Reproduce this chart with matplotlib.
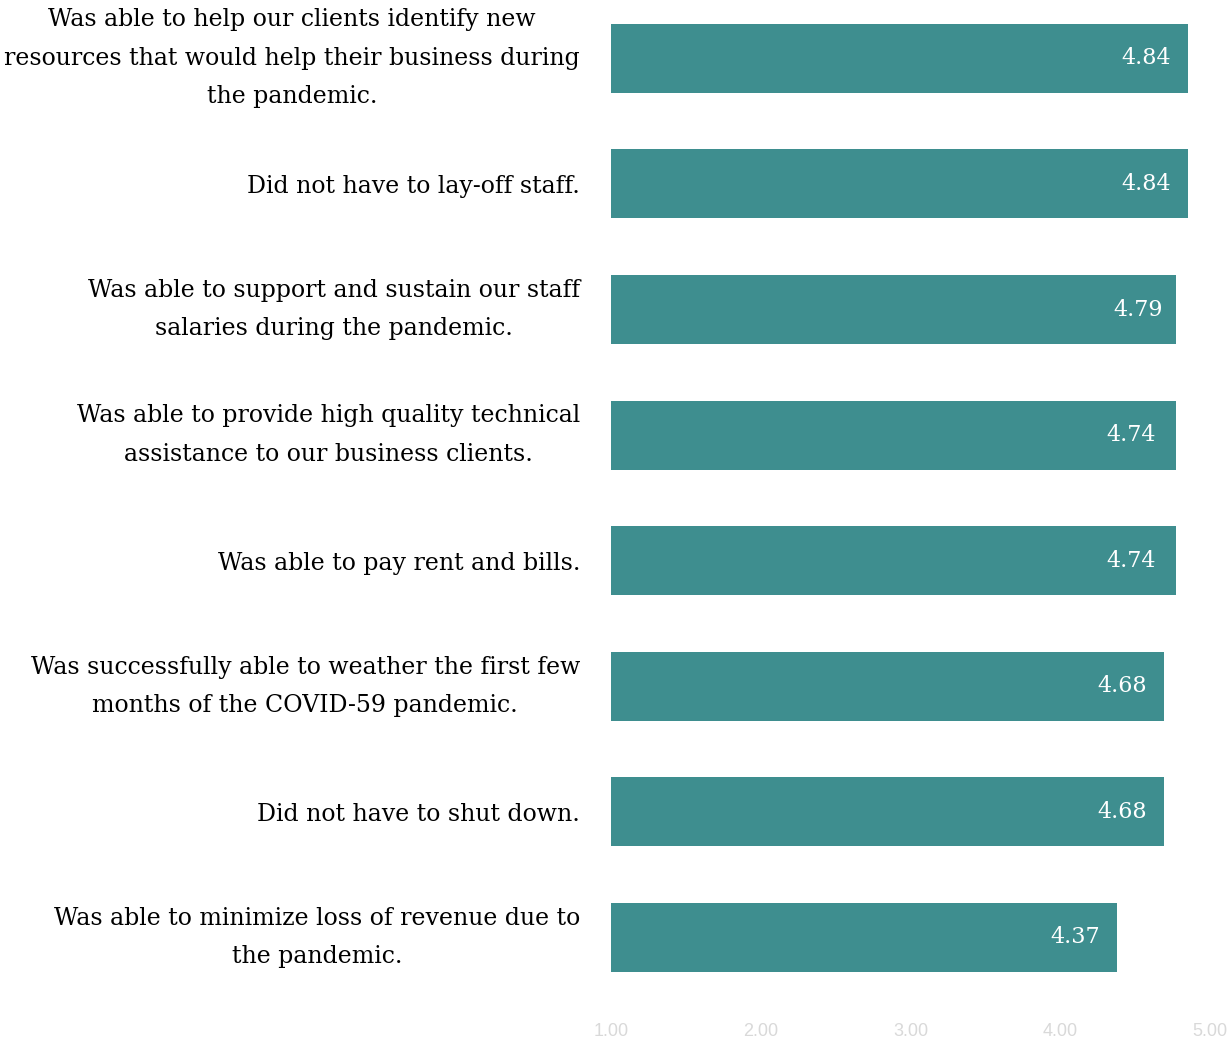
import matplotlib.pyplot as plt

# statements, top to bottom as shown
labels = [
    "Was able to help our clients identify new\nresources that would help their business during\nthe pandemic.",
    "Did not have to lay-off staff.",
    "Was able to support and sustain our staff\nsalaries during the pandemic.",
    "Was able to provide high quality technical\nassistance to our business clients.",
    "Was able to pay rent and bills.",
    "Was successfully able to weather the first few\nmonths of the COVID-59 pandemic.",
    "Did not have to shut down.",
    "Was able to minimize loss of revenue due to\nthe pandemic.",
]
# printed mean scores
scores = [4.84, 4.84, 4.79, 4.74, 4.74, 4.68, 4.68, 4.37]
# bar ends as drawn in the picture (slightly off from the printed scores)
bar_ends = [4.85, 4.85, 4.77, 4.77, 4.77, 4.69, 4.69, 4.38]
xticks = [1, 2, 3, 4, 5]

bar_color = "#3E8E8F"
serif = ["DejaVu Serif"]

fig = plt.figure(figsize=(12.3, 10.45), dpi=100)
ax = fig.add_axes([611 / 1230, 44.7 / 1045, 599 / 1230, 1004.8 / 1045])

y = list(range(len(labels)))
base = xticks[0]
ax.barh(y, [b - base for b in bar_ends], left=base, height=0.55, color=bar_color)

for yi, s in zip(y, scores):
    ax.annotate(f"{s:.2f}", xy=(s, yi), xytext=(-11, 0), textcoords="offset points",
                ha="right", va="center", color="white", fontsize=16, family=serif)

ax.set_xlim(1, 5)
ax.set_ylim(len(labels) - 0.5, -0.5)
ax.set_xticks(xticks)
ax.set_xticklabels([f"{t:.2f}" for t in xticks], color="#D9D9D9",
                   fontsize=13, family="Liberation Sans")
ax.set_yticks(y)
ax.set_yticklabels(labels, fontsize=17, family=serif, ha="center",
                   multialignment="center", linespacing=1.86)
ax.tick_params(axis="both", length=0)
ax.tick_params(axis="x", pad=16)

# center the multi-line labels but keep their right edges at the same spot
fig.canvas.draw()
renderer = fig.canvas.get_renderer()
right_px = 580
inv = ax.transAxes.inverted()
for t in ax.get_yticklabels():
    if "\n" in t.get_text():
        t.set_va("center")
    bb = t.get_window_extent(renderer)
    cx = right_px - bb.width / 2
    t.set_transform(ax.get_yaxis_transform())
    t.set_x(inv.transform((cx, 0))[0])

for sp in ax.spines.values():
    sp.set_visible(False)

fig.savefig("out.png", dpi=100, facecolor="white")
